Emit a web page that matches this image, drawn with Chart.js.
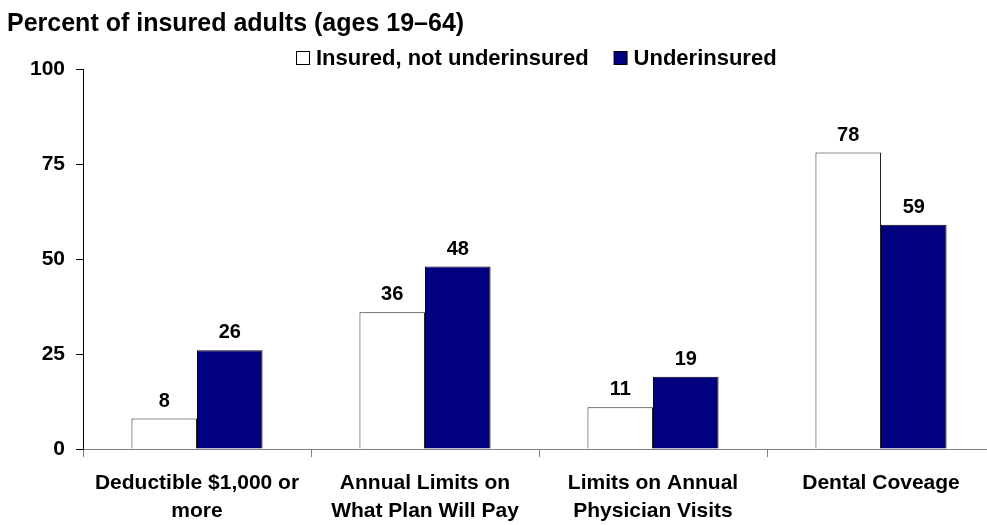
<!DOCTYPE html>
<html>
<head>
<meta charset="utf-8">
<script src="https://cdn.jsdelivr.net/npm/chart.js@4.4.1/dist/chart.umd.min.js"></script>
<style>
  html, body { margin: 0; padding: 0; background: #fff; overflow: hidden; }
  #wrap { width: 1000px; height: 525px; position: relative; }
</style>
</head>
<body>
<div id="wrap"><canvas id="chart"></canvas></div>
<script>
const categories = [
  ['Deductible $1,000 or', 'more'],
  ['Annual Limits on', 'What Plan Will Pay'],
  ['Limits on Annual', 'Physician Visits'],
  ['Dental Coveage']
];
const seriesNames = ['Insured, not underinsured', 'Underinsured'];
const insuredNotUnder = [8, 36, 11, 78];
const underinsured = [26, 48, 19, 59];
const yTicks = [0, 25, 50, 75, 100];

const FONT = '"Liberation Sans", Arial, sans-serif';
const NAVY = '#000080';

// title, legend and value labels are painted by hand
const decorations = {
  id: 'decorations',
  afterDatasetsDraw(chart) {
    const ctx = chart.ctx;
    ctx.save();
    ctx.fillStyle = '#000';
    ctx.font = 'bold 25px ' + FONT;
    ctx.textAlign = 'left';
    ctx.textBaseline = 'alphabetic';
    ctx.fillText('Percent of insured adults (ages 19\u201364)', 7, 31);

    // legend
    ctx.font = 'bold 22px ' + FONT;
    const fills = ['#ffffff', NAVY];
    let x = 296;
    seriesNames.forEach((name, i) => {
      ctx.fillStyle = fills[i];
      ctx.fillRect(x + 0.5, 51.5, 13, 13);
      ctx.strokeStyle = '#000';
      ctx.lineWidth = 1;
      ctx.strokeRect(x + 0.5, 51.5, 13, 13);
      ctx.fillStyle = '#000';
      ctx.fillText(name, x + 20, 65);
      x += 20 + ctx.measureText(name).width + 25;
    });

    // value labels above bars
    ctx.font = 'bold 20px ' + FONT;
    ctx.textAlign = 'center';
    chart.data.datasets.forEach((ds, di) => {
      chart.getDatasetMeta(di).data.forEach((bar, i) => {
        ctx.fillText(String(ds.data[i]), bar.x, bar.y - 12);
      });
    });
    ctx.restore();
  }
};

new Chart(document.getElementById('chart'), {
  type: 'bar',
  data: {
    labels: categories,
    datasets: [{
      label: seriesNames[0],
      data: insuredNotUnder,
      backgroundColor: '#ffffff',
      borderColor: '#222',
      borderWidth: 1
    }, {
      label: seriesNames[1],
      data: underinsured,
      backgroundColor: NAVY,
      borderColor: '#000',
      borderWidth: 1
    }]
  },
  options: {
    responsive: true,
    maintainAspectRatio: false,
    animation: false,
    layout: { padding: { top: 69, right: 5, left: 0, bottom: 0 } },
    datasets: { bar: { categoryPercentage: 0.575, barPercentage: 1 } },
    plugins: { legend: { display: false }, tooltip: { enabled: false } },
    scales: {
      x: {
        grid: { drawOnChartArea: false, drawTicks: true, tickLength: 8, color: '#808080' },
        border: { color: '#808080' },
        ticks: {
          color: '#000',
          font: { family: FONT, size: 21, weight: 'bold', lineHeight: 1.3 },
          padding: 13,
          maxRotation: 0,
          autoSkip: false
        },
        afterFit(scale) { scale.height = 76; }
      },
      y: {
        min: 0,
        max: 100,
        afterBuildTicks(scale) { scale.ticks = yTicks.map(v => ({ value: v })); },
        grid: { drawOnChartArea: false, drawTicks: true, tickLength: 7, color: '#000' },
        border: { color: '#000' },
        ticks: {
          color: '#000',
          font: { family: FONT, size: 21, weight: 'bold' },
          padding: 11
        },
        afterFit(scale) { scale.width = 83; }
      }
    }
  },
  plugins: [decorations]
});
</script>
</body>
</html>
